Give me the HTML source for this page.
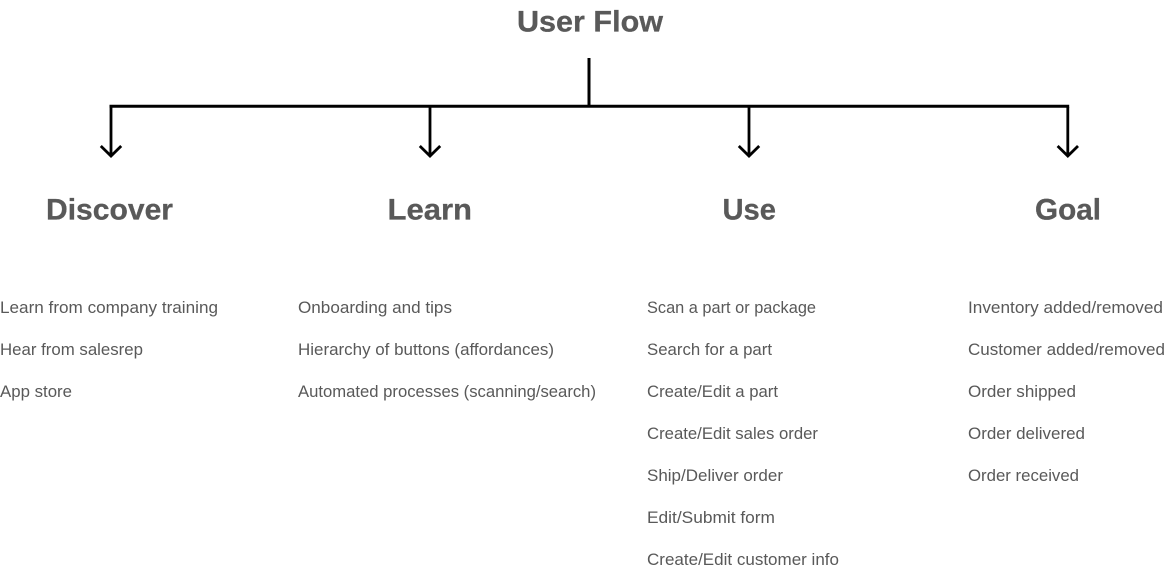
<!DOCTYPE html>
<html lang="en">
<head>
<meta charset="utf-8">
<title>User Flow</title>
<style>
html,body{margin:0;padding:0;background:#fff;width:1168px;height:570px;overflow:hidden}
svg{display:block}
.h{font:bold 30px "Liberation Sans",sans-serif;fill:#595959;stroke:#595959;stroke-width:.3px}
.t{font:16.5px "Liberation Sans",sans-serif;fill:#595959}
.l{stroke:#000;fill:none}
</style>
</head>
<body>
<svg width="1168" height="570" viewBox="0 0 1168 570" xmlns="http://www.w3.org/2000/svg">
<path class="l" stroke-width="3" d="M589 58V106"/>
<path class="l" stroke-width="3" d="M109.500 106.300H1069.200"/>
<g class="l" stroke-width="2.800">
<path d="M111 107V156M100.800 146L111 156L121.200 146"/>
<path d="M430 107V156M419.800 146L430 156L440.200 146"/>
<path d="M749 107V156M738.800 146L749 156L759.200 146"/>
<path d="M1067.800 107V156M1057.600 146L1067.800 156L1078 146"/>
</g>
<text class="h" x="517" y="31.500" textLength="146" lengthAdjust="spacingAndGlyphs">User Flow</text>
<text class="h" x="46" y="219.500" textLength="127" lengthAdjust="spacingAndGlyphs">Discover</text>
<text class="h" x="387.500" y="219.500" textLength="84.500" lengthAdjust="spacingAndGlyphs">Learn</text>
<text class="h" x="722.500" y="219.500" textLength="53.500" lengthAdjust="spacingAndGlyphs">Use</text>
<text class="h" x="1035" y="219.500" textLength="66" lengthAdjust="spacingAndGlyphs">Goal</text>

<text class="t" x="0" y="313" textLength="218" lengthAdjust="spacingAndGlyphs">Learn from company training</text>
<text class="t" x="0" y="355" textLength="143" lengthAdjust="spacingAndGlyphs">Hear from salesrep</text>
<text class="t" x="0" y="397" textLength="72" lengthAdjust="spacingAndGlyphs">App store</text>

<text class="t" x="298" y="313" textLength="154" lengthAdjust="spacingAndGlyphs">Onboarding and tips</text>
<text class="t" x="298" y="355" textLength="256" lengthAdjust="spacingAndGlyphs">Hierarchy of buttons (affordances)</text>
<text class="t" x="298" y="397" textLength="298" lengthAdjust="spacingAndGlyphs">Automated processes (scanning/search)</text>

<text class="t" x="647" y="313" textLength="169" lengthAdjust="spacingAndGlyphs">Scan a part or package</text>
<text class="t" x="647" y="355" textLength="125" lengthAdjust="spacingAndGlyphs">Search for a part</text>
<text class="t" x="647" y="397" textLength="131" lengthAdjust="spacingAndGlyphs">Create/Edit a part</text>
<text class="t" x="647" y="439" textLength="171" lengthAdjust="spacingAndGlyphs">Create/Edit sales order</text>
<text class="t" x="647" y="481" textLength="136" lengthAdjust="spacingAndGlyphs">Ship/Deliver order</text>
<text class="t" x="647" y="523" textLength="128" lengthAdjust="spacingAndGlyphs">Edit/Submit form</text>
<text class="t" x="647" y="565" textLength="192" lengthAdjust="spacingAndGlyphs">Create/Edit customer info</text>

<text class="t" x="968" y="313" textLength="195" lengthAdjust="spacingAndGlyphs">Inventory added/removed</text>
<text class="t" x="968" y="355" textLength="197" lengthAdjust="spacingAndGlyphs">Customer added/removed</text>
<text class="t" x="968" y="397" textLength="108" lengthAdjust="spacingAndGlyphs">Order shipped</text>
<text class="t" x="968" y="439" textLength="117" lengthAdjust="spacingAndGlyphs">Order delivered</text>
<text class="t" x="968" y="481" textLength="111" lengthAdjust="spacingAndGlyphs">Order received</text>
</svg>
</body>
</html>
